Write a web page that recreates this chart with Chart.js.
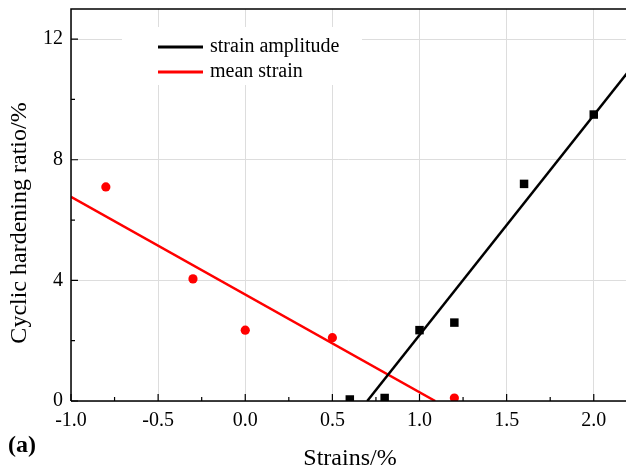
<!DOCTYPE html>
<html lang="en">
<head>
    <meta charset="UTF-8">
    <title>Cyclic hardening ratio</title>
    <script src="https://cdn.jsdelivr.net/npm/chart.js"></script>
    <style>
        html, body { margin: 0; padding: 0; background: #fff; overflow: hidden; }
        #wrap { width: 626px; height: 475px; position: relative; }
    </style>
</head>
<body>
    <div id="wrap"><canvas id="chart"></canvas></div>
    <script>
        // measured points
        const amplitudeX = [0.6, 0.8, 1.0, 1.2, 1.6, 2.0];
        const amplitudeY = [0.05, 0.1, 2.35, 2.6, 7.2, 9.5];
        const meanX = [-0.8, -0.3, 0.0, 0.5, 1.2];
        const meanY = [7.1, 4.05, 2.35, 2.1, 0.1];

        // fitted lines (end points)
        const amplitudeFitX = [0.70, 2.2];
        const amplitudeFitY = [0, 10.94];
        const meanFitX = [-1.0, 1.09];
        const meanFitY = [6.77, 0];

        const xTicks = [-1.0, -0.5, 0.0, 0.5, 1.0, 1.5, 2.0];
        const yTicks = [0, 4, 8, 12];
        const legendLabels = ['strain amplitude', 'mean strain'];
        const legendColors = ['#000000', '#ff0000'];

        const toPoints = (xs, ys) => xs.map((x, i) => ({ x: x, y: ys[i] }));
        const serif = "'Liberation Serif', 'Times New Roman', serif";

        // axes box, inward ticks, legend and titles
        const decorations = {
            id: 'decorations',
            afterDraw(chart) {
                const ctx = chart.ctx;
                const xs = chart.scales.x, ys = chart.scales.y;
                const a = chart.chartArea;
                ctx.save();
                ctx.strokeStyle = '#000';
                ctx.lineWidth = 1.5;
                ctx.beginPath();
                ctx.moveTo(a.left, a.bottom);
                ctx.lineTo(a.left, a.top);
                ctx.lineTo(a.right + 2, a.top);
                ctx.moveTo(a.left, a.bottom);
                ctx.lineTo(a.right + 2, a.bottom);
                ctx.stroke();

                ctx.lineWidth = 1.2;
                ctx.beginPath();
                for (let v = -1.0; v <= 2.2; v += 0.25) {
                    const px = xs.getPixelForValue(v);
                    if (px > a.right) break;
                    const major = Math.abs(v * 2 - Math.round(v * 2)) < 1e-6;
                    ctx.moveTo(px, a.bottom);
                    ctx.lineTo(px, a.bottom - (major ? 7 : 4));
                }
                for (let v = 0; v <= 12; v += 2) {
                    const py = ys.getPixelForValue(v);
                    ctx.moveTo(a.left, py);
                    ctx.lineTo(a.left + (v % 4 === 0 ? 7 : 4), py);
                }
                ctx.stroke();

                // legend
                ctx.fillStyle = '#fff';
                ctx.fillRect(122, 27, 240, 58);
                ctx.lineWidth = 3;
                ctx.font = '20px ' + serif;
                ctx.textBaseline = 'middle';
                legendLabels.forEach((label, i) => {
                    const y = 47 + i * 25;
                    ctx.strokeStyle = legendColors[i];
                    ctx.beginPath();
                    ctx.moveTo(158, y);
                    ctx.lineTo(203, y);
                    ctx.stroke();
                    ctx.fillStyle = '#000';
                    ctx.textAlign = 'left';
                    ctx.fillText(label, 210, y);
                });

                // axis titles
                ctx.fillStyle = '#000';
                ctx.font = '24px ' + serif;
                ctx.textAlign = 'center';
                ctx.fillText('Strains/%', 350, 459);
                ctx.translate(20, 223);
                ctx.rotate(-Math.PI / 2);
                ctx.fillText('Cyclic hardening ratio/%', 0, 0);
                ctx.restore();

                ctx.save();
                ctx.fillStyle = '#000';
                ctx.font = 'bold 24px ' + serif;
                ctx.textAlign = 'left';
                ctx.textBaseline = 'middle';
                ctx.fillText('(a)', 8, 446);
                ctx.restore();
            }
        };

        const noPad = s => {
            s.paddingTop = 0;
            s.paddingBottom = 0;
            s.paddingLeft = 0;
            s.paddingRight = 0;
        };

        new Chart(document.getElementById('chart'), {
            type: 'scatter',
            data: {
                datasets: [
                    { data: toPoints(amplitudeFitX, amplitudeFitY), showLine: true, borderColor: '#000', borderWidth: 2.5, pointRadius: 0 },
                    { data: toPoints(meanFitX, meanFitY), showLine: true, borderColor: '#ff0000', borderWidth: 2.5, pointRadius: 0 },
                    { data: toPoints(amplitudeX, amplitudeY), pointStyle: 'rect', pointRadius: 6, backgroundColor: '#000', borderWidth: 0 },
                    { data: toPoints(meanX, meanY), pointStyle: 'circle', pointRadius: 4.6, backgroundColor: '#ff0000', borderWidth: 0 }
                ]
            },
            options: {
                responsive: true,
                maintainAspectRatio: false,
                animation: false,
                layout: { autoPadding: false, padding: { top: 9, right: 0, left: 0, bottom: 0 } },
                plugins: { legend: { display: false }, tooltip: { enabled: false } },
                scales: {
                    x: {
                        type: 'linear',
                        min: -1.0,
                        max: 2.185,
                        afterBuildTicks: s => { s.ticks = xTicks.map(v => ({ value: v })); },
                        afterFit: s => { s.height = 74; noPad(s); },
                        grid: { color: '#dddddd', lineWidth: 1, drawTicks: false },
                        border: { display: false },
                        ticks: {
                            padding: 8,
                            color: '#000',
                            font: { family: serif, size: 20 },
                            callback: v => v.toFixed(1)
                        }
                    },
                    y: {
                        min: 0,
                        max: 13,
                        afterBuildTicks: s => { s.ticks = yTicks.map(v => ({ value: v })); },
                        afterFit: s => { s.width = 71; noPad(s); },
                        grid: { color: '#dddddd', lineWidth: 1, drawTicks: false },
                        border: { display: false },
                        ticks: {
                            padding: 8,
                            color: '#000',
                            font: { family: serif, size: 20 },
                            callback: v => String(v)
                        }
                    }
                }
            },
            plugins: [decorations]
        });
    </script>
</body>
</html>
